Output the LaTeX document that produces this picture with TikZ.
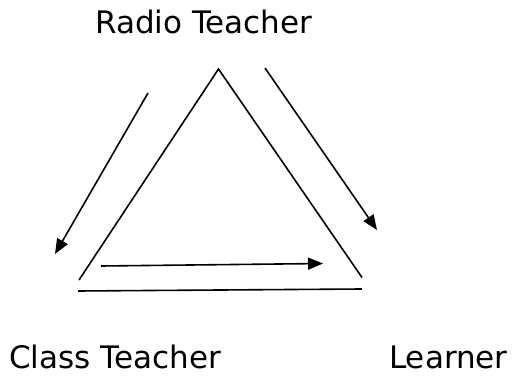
\documentclass[tikz,border=0pt]{standalone}
\usepackage{fontspec}
\setmainfont{DejaVu Sans}
\usetikzlibrary{arrows.meta}
\begin{document}
\begin{tikzpicture}[x=1pt,y=1pt,
  lbl/.style={anchor=base west,inner sep=0pt,font=\fontsize{31}{37}\selectfont},
  edge/.style={line width=1.6pt},
  flow/.style={line width=1.6pt,-{Triangle[length=15pt,width=12pt]}}]
\useasboundingbox (0,0) rectangle (512,376);
\node[lbl] (rt) at (95,343) {Radio Teacher};
\node[lbl] (ct) at (9,8) {Class Teacher};
\node[lbl] (le) at (389,8) {Learner};
% triangle
\coordinate (top) at (218.5,307);
\coordinate (bl) at (79,96);
\coordinate (br) at (362,98.5);
\draw[edge] (bl) -- (top) -- (br);
\coordinate (b1) at (78,85);
\coordinate (b2) at (362,87);
\draw[edge] (b1) -- (b2);
% arrows
\coordinate (la1) at (148,283);
\coordinate (la2) at (55,122);
\draw[flow] (la1) -- (la2);
\coordinate (ra1) at (265,308);
\coordinate (ra2) at (377,146);
\draw[flow] (ra1) -- (ra2);
\coordinate (ba1) at (101,110);
\coordinate (ba2) at (323,112.5);
\draw[flow] (ba1) -- (ba2);
\end{tikzpicture}
\end{document}
